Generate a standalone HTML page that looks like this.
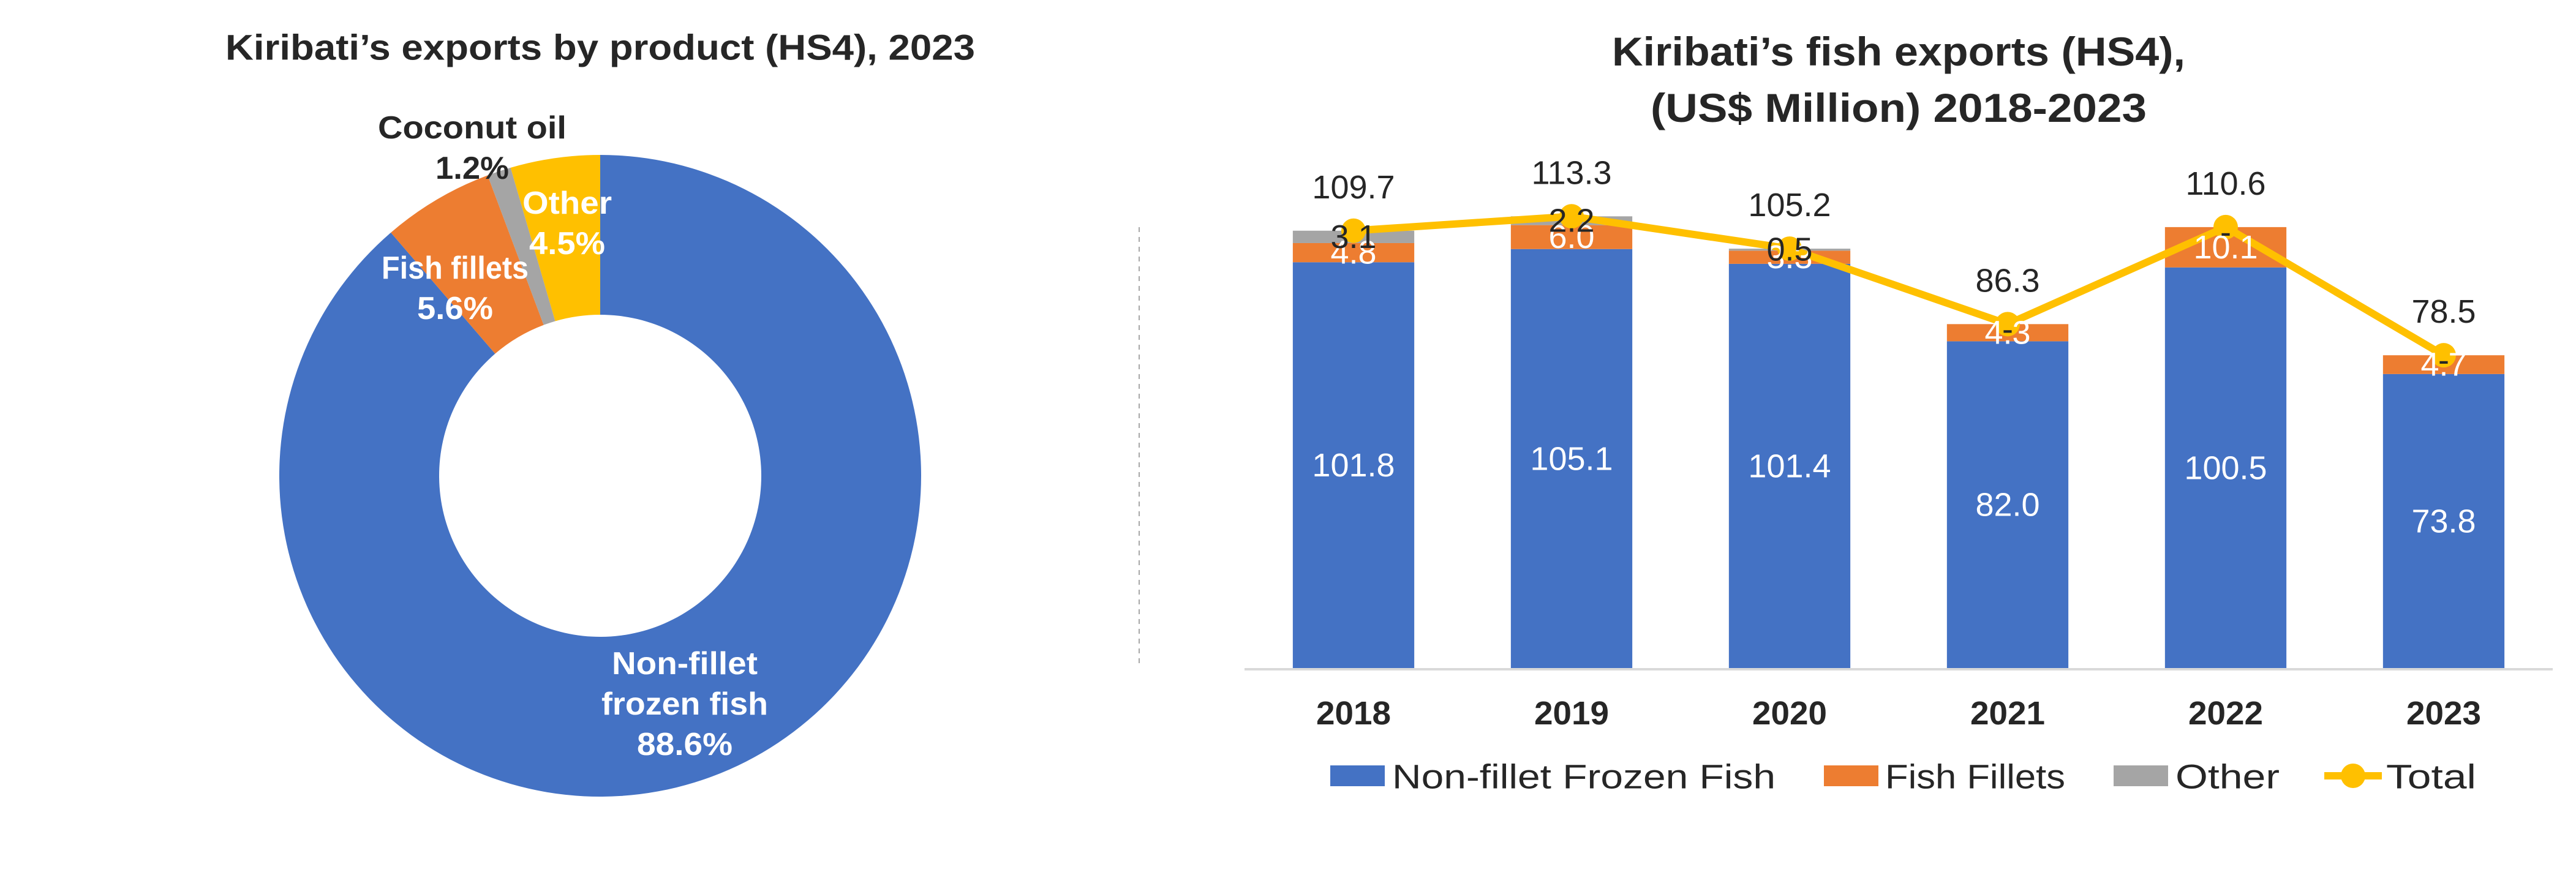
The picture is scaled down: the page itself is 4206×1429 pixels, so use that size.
<!DOCTYPE html>
<html><head><meta charset="utf-8"><style>
html,body{margin:0;padding:0;background:#fff;}
svg{display:block;font-family:"Liberation Sans",sans-serif;}
</style></head><body>
<svg id="root" width="4206" height="1429" viewBox="0 0 4206 1429" xmlns="http://www.w3.org/2000/svg">
<rect width="4206" height="1429" fill="#fff"/>
<text x="980" y="78" text-anchor="middle" dominant-baseline="central" font-size="58" font-weight="bold" fill="#262626" textLength="1224" lengthAdjust="spacingAndGlyphs">Kiribati’s exports by product (HS4), 2023</text>
<g id="donut"></g>
<line x1="1860" y1="371" x2="1860" y2="1090" stroke="#A6A6A6" stroke-width="2" stroke-dasharray="8,8"/>
<text x="3100" y="84" text-anchor="middle" dominant-baseline="central" font-size="66" font-weight="bold" fill="#262626" textLength="936" lengthAdjust="spacingAndGlyphs">Kiribati’s fish exports (HS4),</text>
<text x="3100" y="176" text-anchor="middle" dominant-baseline="central" font-size="66" font-weight="bold" fill="#262626" textLength="810" lengthAdjust="spacingAndGlyphs">(US$ Million) 2018-2023</text>
<g id="bars"></g>
<g>
<rect x="2172" y="1250" width="89" height="34" fill="#4472C4"/>
<text x="2273" y="1268" dominant-baseline="central" font-size="56" fill="#262626" textLength="626" lengthAdjust="spacingAndGlyphs">Non-fillet Frozen Fish</text>
<rect x="2978" y="1250" width="89" height="34" fill="#ED7D31"/>
<text x="3078" y="1268" dominant-baseline="central" font-size="56" fill="#262626" textLength="294" lengthAdjust="spacingAndGlyphs">Fish Fillets</text>
<rect x="3451" y="1250" width="89" height="34" fill="#A5A5A5"/>
<text x="3552" y="1268" dominant-baseline="central" font-size="56" fill="#262626" textLength="170" lengthAdjust="spacingAndGlyphs">Other</text>
<line x1="3795" y1="1267" x2="3889" y2="1267" stroke="#FFC000" stroke-width="12"/>
<circle cx="3842" cy="1267" r="20" fill="#FFC000"/>
<text x="3896" y="1268" dominant-baseline="central" font-size="56" fill="#262626" textLength="147" lengthAdjust="spacingAndGlyphs">Total</text>
</g>
</svg>
<script>
// Donut data
const donutLabels = ["Non-fillet frozen fish","Fish fillets","Coconut oil","Other"];
const donutValues = [88.6, 5.6, 1.2, 4.5];
const donutColors = ["#4472C4","#ED7D31","#A5A5A5","#FFC000"];
// Bar data
const years = ["2018","2019","2020","2021","2022","2023"];
const frozenFish = [101.8, 105.1, 101.4, 82.0, 100.5, 73.8];
const fishFillets = [4.8, 6.0, 3.3, 4.3, 10.1, 4.7];
const otherFish = [3.1, 2.2, 0.5, 0, 0, 0];
const totals = [109.7, 113.3, 105.2, 86.3, 110.6, 78.5];

const NS = "http://www.w3.org/2000/svg";
function mk(tag, attrs, parent, txt){
  const e = document.createElementNS(NS, tag);
  for (const k in attrs) e.setAttribute(k, attrs[k]);
  if (txt !== undefined) e.textContent = txt;
  parent.appendChild(e);
  return e;
}

// ---- Donut ----
const dg = document.getElementById("donut");
const cx = 980, cy = 777, R = 524, r = 263;
const sum = donutValues.reduce((a,b)=>a+b,0);
let ang = 0;
const sliceNames = ["slice-nonfillet","slice-fish-fillets","slice-coconut-oil","slice-other"];
function pt(rad, a){ return [cx + rad*Math.sin(a), cy - rad*Math.cos(a)]; }
donutValues.forEach((v,i)=>{
  const a0 = ang, a1 = ang + v/sum*2*Math.PI; ang = a1;
  const large = (a1-a0) > Math.PI ? 1 : 0;
  const p0 = pt(R,a0), p1 = pt(R,a1), q1 = pt(r,a1), q0 = pt(r,a0);
  const d = `M${p0[0]},${p0[1]} A${R},${R} 0 ${large} 1 ${p1[0]},${p1[1]} L${q1[0]},${q1[1]} A${r},${r} 0 ${large} 0 ${q0[0]},${q0[1]} Z`;
  const p = mk("path", {d:d, fill:donutColors[i]}, dg);
  
  
});
const dlabels = [
  {lines:["Non-fillet","frozen fish", donutValues[0].toFixed(1)+"%"], x:1118, y:1084, fill:"#fff", w:[238,272,156], n:"label-nonfillet"},
  {lines:["Fish fillets", donutValues[1].toFixed(1)+"%"], x:743, y:438, fill:"#fff", w:[240,124], n:"label-fish-fillets"},
  {lines:["Coconut oil", donutValues[2].toFixed(1)+"%"], x:771, y:209, fill:"#262626", w:[308,120], n:"label-coconut-oil"},
  {lines:["Other", donutValues[3].toFixed(1)+"%"], x:926, y:332, fill:"#fff", w:[146,124], n:"label-other"}
];
dlabels.forEach(L=>{
  L.lines.forEach((s,j)=>{
    const t = mk("text", {x:L.x, y:L.y + j*66, "text-anchor":"middle", "dominant-baseline":"central", "font-size":"52", "font-weight":"bold", fill:L.fill, textLength:L.w[j], lengthAdjust:"spacingAndGlyphs"}, dg, s);
    
    
  });
});

// ---- Bars ----
const bg = document.getElementById("bars");
const x0 = 2032, x1 = 4168, base = 1092, pxPer = 6.52;
const band = (x1 - x0) / years.length;
const bw = band * 0.557;
const xc = i => x0 + band*(i+0.5);
const yv = v => base - v*pxPer;

years.forEach((yr,i)=>{
  const segs = [[frozenFish[i],"#4472C4","#fff","bar-frozen-"+yr],[fishFillets[i],"#ED7D31","#fff","bar-fillets-"+yr],[otherFish[i],"#A5A5A5","#262626","bar-other-"+yr]];
  let acc = 0;
  segs.forEach(([v,c,tc,n],k)=>{
    const top = yv(acc+v), bot = yv(acc);
    if (v > 0){
      const rc = mk("rect", {x:xc(i)-bw/2, y:top, width:bw, height:bot-top, fill:c}, bg);
      
      
    }
    acc += v;
  });
});
const ax = mk("line", {x1:x0, y1:base+1, x2:x1, y2:base+1, stroke:"#D9D9D9", "stroke-width":"4"}, bg);



// total line
let pts = totals.map((v,i)=>`${xc(i)},${yv(v)}`).join(" ");
const pl = mk("polyline", {points:pts, fill:"none", stroke:"#FFC000", "stroke-width":"12", "stroke-linejoin":"round"}, bg);


totals.forEach((v,i)=>{
  const c = mk("circle", {cx:xc(i), cy:yv(v), r:20, fill:"#FFC000"}, bg);
  
  
});

// labels
years.forEach((yr,i)=>{
  let acc = 0;
  const segs = [[frozenFish[i],"#fff","label-frozen-"+yr],[fishFillets[i],"#fff","label-fillets-"+yr],[otherFish[i],"#262626","label-other-"+yr]];
  segs.forEach(([v,c,n],k)=>{
    const mid = yv(acc + v/2);
    acc += v;
    const s = v > 0 ? v.toFixed(1) : "-";
    const t = mk("text", {x:xc(i), y:(v>0?mid:yv(acc)+8), "text-anchor":"middle", "dominant-baseline":"central", "font-size":"54", fill:c}, bg, s);
    
    
  });
  const tt = mk("text", {x:xc(i), y:yv(totals[i])-71, "text-anchor":"middle", "dominant-baseline":"central", "font-size":"54", fill:"#262626"}, bg, totals[i].toFixed(1));
  
  
  const yl = mk("text", {x:xc(i), y:1165, "text-anchor":"middle", "dominant-baseline":"central", "font-size":"54", "font-weight":"bold", fill:"#262626", textLength:"122", lengthAdjust:"spacingAndGlyphs"}, bg, yr);
  
  
});
</script>
</body></html>
